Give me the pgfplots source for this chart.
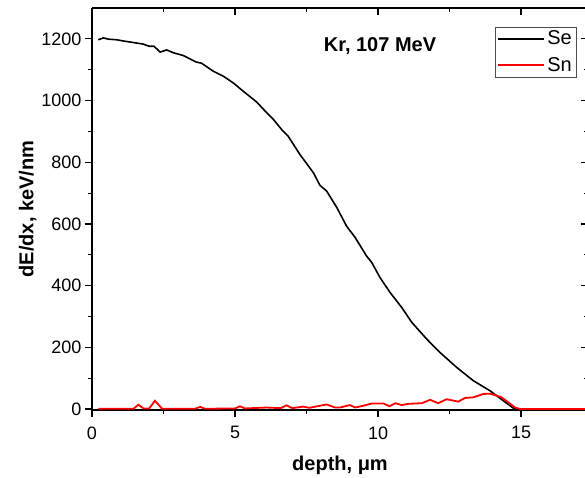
\documentclass[border=0pt]{standalone}
\usepackage{pgfplots}
\pgfplotsset{compat=1.18}
\usepackage{fontspec}
\setmainfont{Liberation Sans}
\pgfplotstableread{
x y
0.22 1197
0.40 1203
0.57 1199
0.86 1197
1.10 1193
1.45 1188
1.79 1183
2.00 1176
2.17 1176
2.38 1157
2.61 1164
2.84 1155
3.19 1146
3.64 1125
3.83 1121
4.24 1095
4.59 1079
4.94 1057
5.29 1030
5.76 995
6.00 971
6.34 939
6.63 906
6.86 884
7.27 825
7.74 766
7.97 725
8.20 707
8.56 653
8.90 593
9.20 556
9.60 496
9.78 475
10.07 426
10.42 378
10.83 329
11.18 281
11.70 227
12.17 183
12.75 135
13.33 92
13.92 59
14.38 27
14.73 3
14.85 0
17.4 0
}\se
\pgfplotstableread{
x y
0.22 1
1.45 1
1.62 14
1.80 2
2.00 2
2.20 27
2.45 1
3.60 1
3.78 7
3.95 1
5.00 2
5.17 9
5.35 2
6.10 5
6.60 3
6.80 12
7.00 3
7.39 8
7.60 4
8.20 15
8.50 5
8.67 5
9.02 13
9.20 5
9.49 11
9.78 18
10.19 18
10.40 9
10.60 19
10.83 13
11.06 17
11.53 19
11.82 30
12.10 19
12.40 32
12.80 24
13.04 36
13.33 38
13.68 49
13.92 50
14.32 38
14.55 22
14.79 5
14.97 0
17.4 0
}\sn
\begin{document}
\begin{tikzpicture}
\pgfplotsset{
  common/.style={
    scale only axis, width=496pt, height=402pt,
    xmin=0, xmax=17.34, ymin=-3, ymax=1300,
    xtick={0,5,10,15}, minor x tick num=1,
    ytick={0,200,400,600,800,1000,1200}, minor y tick num=1,
    major tick length=7pt, minor tick length=4pt,
    axis line style={line width=1.2pt},
    every tick/.style={black, line width=1.2pt},
  }
}
\begin{axis}[common,
  axis x line*=top, axis y line*=right,
  tick align=inside, xticklabels={}, yticklabels={},
]
\end{axis}
\begin{axis}[common,
  axis x line*=bottom, axis y line*=left,
  tick align=outside,
  /pgf/number format/assume math mode=true,
  /pgf/number format/1000 sep={},
  ticklabel style={font=\fontsize{18}{20}\selectfont},
  xticklabel style={yshift=-6pt},
  xlabel={\textbf{depth, μm}},
  ylabel={\textbf{dE/dx, keV/nm}},
  label style={font=\fontsize{20}{22}\selectfont},
  xlabel style={yshift=-10pt},
  ylabel style={yshift=-2pt},
  legend style={at={(axis cs:16.92,1239)}, anchor=north east,
    draw=black!70, font=\fontsize{20}{22}\selectfont,
    inner sep=2pt, row sep=7pt},
  legend cell align=left,
  legend image code/.code={\draw[mark repeat=2,mark phase=2,#1] plot coordinates {(0pt,0pt) (23pt,0pt) (46pt,0pt)};},
  clip=true,
]
\coordinate (sw) at (rel axis cs:0,0);
\coordinate (ne) at (rel axis cs:1,1);
\addplot[color=black, line width=1.6pt] table[x=x,y=y] {\se};
\addlegendentry{Se}
\addplot[color=red, line width=1.8pt] table[x=x,y=y] {\sn};
\addlegendentry{Sn}
\node[font=\bfseries\fontsize{20}{22}\selectfont] at (axis cs:10.07,1175) {Kr, 107 MeV};
\end{axis}
\pgfresetboundingbox
\useasboundingbox ([xshift=-92pt,yshift=-68pt]sw) rectangle ([xshift=-3pt,yshift=8pt]ne);
\end{tikzpicture}
\end{document}
